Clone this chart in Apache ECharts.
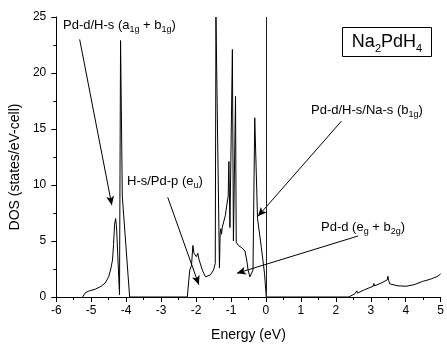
<!DOCTYPE html>
<html><head><meta charset="utf-8">
<script src="https://cdn.jsdelivr.net/npm/echarts@6/dist/echarts.min.js"></script>
<style>html,body{margin:0;padding:0;background:#fff}#c{width:447px;height:347px}</style>
</head><body><div id="c"></div>
<script>
// ---- data ----
const energy = [-5.25,-5.16,-5.05,-4.88,-4.72,-4.60,-4.50,-4.44,-4.39,-4.36,-4.33,-4.30,-4.28,-4.27,-4.25,-4.19,-4.16,-4.11,-3.90,
  -2.25,-2.18,-2.13,-2.09,-2.06,-1.99,-1.95,-1.92,-1.82,-1.73,-1.70,-1.59,-1.50,-1.45,-1.43,-1.40,-1.33,-1.31,-1.29,-1.27,-1.25,-1.16,-1.12,-1.08,-1.06,-1.03,-0.96,-0.93,-0.87,-0.85,-0.79,-0.69,-0.60,-0.55,-0.51,-0.46,-0.41,-0.37,-0.32,-0.24,-0.13,-0.04,0.01,
  2.37,2.55,2.60,2.62,2.83,3.07,3.09,3.11,3.30,3.47,3.49,3.51,3.54,3.77,4.01,4.24,4.48,4.71,4.90,5.00];
const dos = [0,0.4,0.55,0.7,0.95,1.25,1.8,2.5,3.3,4.7,6.5,7.0,6.4,5.9,5.8,0.2,22.9,9.0,0,
  0,2.4,2.8,4.6,3.9,3.6,3.9,3.4,2.4,1.8,1.77,1.97,2.4,3.0,25,25,2.6,5.7,6.1,5.6,6.2,7.3,8.2,9.0,12.1,6.2,22.1,5.0,17.9,4.9,4.6,4.4,4.1,3.3,2.4,1.8,1.77,2.4,16.0,7.0,4.4,2.1,0,
  0,0.3,0.55,0.35,0.66,0.96,1.2,1.0,1.25,1.53,1.85,1.5,1.18,1.0,0.96,1.1,1.39,1.59,1.83,2.06];
const xTicks = [-6,-5,-4,-3,-2,-1,0,1,2,3,4,5];
const yTicks = [0,5,10,15,20,25];
const fermiLevel = [0];
// annotation labels and their arrows (arrow ends in data units)
const labelTexts = ['Pd-d/H-s (a{s|1g} + b{s|1g})','H-s/Pd-p (e{s|u})','Pd-d/H-s/Na-s (b{s|1g})','Pd-d (e{s|g} + b{s|2g})'];
const arrowFrom = [[-5.33,23.0],[-2.81,8.9],[2.16,15.7],[2.64,5.45]];
const arrowTo   = [[-4.41,8.2],[-1.92,1.1],[-0.23,7.2],[-0.83,2.12]];
const arrowCurve = [0,0,0,-0.25];
const compound = 'Na{s|2}PdH{s|4}';

// ---- chart ----
const FONT = 'Liberation Sans';
const pts = energy.map((e,i)=>[e,dos[i]]);
const chart = echarts.init(document.getElementById('c'), null, {renderer:'canvas'});
const sub = {fontSize:9, lineHeight:19, verticalAlign:'bottom', fontFamily:FONT, fill:'#000'};
const labelPos = [[63,25],[127,181],[311,110],[321,227]];
const graphics = labelTexts.map((t,i)=>({type:'text', x:labelPos[i][0], y:labelPos[i][1],
  style:{text:t, fontSize:13, fontFamily:FONT, fill:'#000', lineHeight:19, verticalAlign:'middle', rich:{s:sub}}}));
graphics.push({type:'rect', shape:{x:342.5, y:27.5, width:89, height:29}, style:{fill:'none', stroke:'#000', lineWidth:1}});
graphics.push({type:'text', x:387, y:42, style:{text:compound, fontSize:18, fontFamily:FONT, fill:'#000',
  lineHeight:25, align:'center', verticalAlign:'middle',
  rich:{s:{fontSize:11, lineHeight:25, verticalAlign:'bottom', fontFamily:FONT, fill:'#000'}}}});

const arrows = arrowFrom.map((f,i)=>[{coord:f},{coord:arrowTo[i], lineStyle:{curveness:arrowCurve[i]}}]);

chart.setOption({
  animation:false,
  backgroundColor:'#fff',
  textStyle:{fontFamily:FONT, color:'#000'},
  grid:{left:54, right:3, top:17, bottom:43, containLabel:false},
  xAxis:{type:'value', min:xTicks[0], max:xTicks[xTicks.length-1], interval:1,
    name:'Energy (eV)', nameLocation:'middle', nameGap:31,
    nameTextStyle:{fontSize:14, color:'#000', fontFamily:FONT},
    axisLine:{show:true, onZero:false, lineStyle:{color:'#000', width:1}},
    axisTick:{show:true, inside:false, length:5, lineStyle:{color:'#000'}},
    minorTick:{show:true, splitNumber:2, length:3, lineStyle:{color:'#000'}},
    axisLabel:{fontSize:12, color:'#000', margin:8, fontFamily:FONT},
    splitLine:{show:false}},
  yAxis:{type:'value', min:yTicks[0], max:yTicks[yTicks.length-1], interval:5,
    name:'DOS (states/eV-cell)', nameLocation:'middle', nameGap:30,
    nameTextStyle:{fontSize:14, color:'#000', fontFamily:FONT, padding:[0,20,0,0]},
    axisLine:{show:true, onZero:false, lineStyle:{color:'#000', width:1}},
    axisTick:{show:true, inside:false, length:5, lineStyle:{color:'#000'}},
    minorTick:{show:true, splitNumber:2, length:3, lineStyle:{color:'#000'}},
    axisLabel:{fontSize:12, color:'#000', margin:10, fontFamily:FONT},
    splitLine:{show:false}},
  series:[
    {type:'line', data:pts, showSymbol:false, symbol:'none', clip:true,
      lineStyle:{color:'#000', width:1}, z:3,
      markLine:{silent:true, symbol:['none','arrow'], symbolSize:[6,9], animation:false,
        label:{show:false}, lineStyle:{color:'#000', width:1, type:'solid'}, data:arrows}},
    {type:'line', data:[], markLine:{silent:true, symbol:'none', animation:false, label:{show:false},
      lineStyle:{color:'#222', width:1, type:'solid'}, data:fermiLevel.map(v=>({xAxis:v}))}}
  ],
  graphic:graphics
});
</script></body></html>
